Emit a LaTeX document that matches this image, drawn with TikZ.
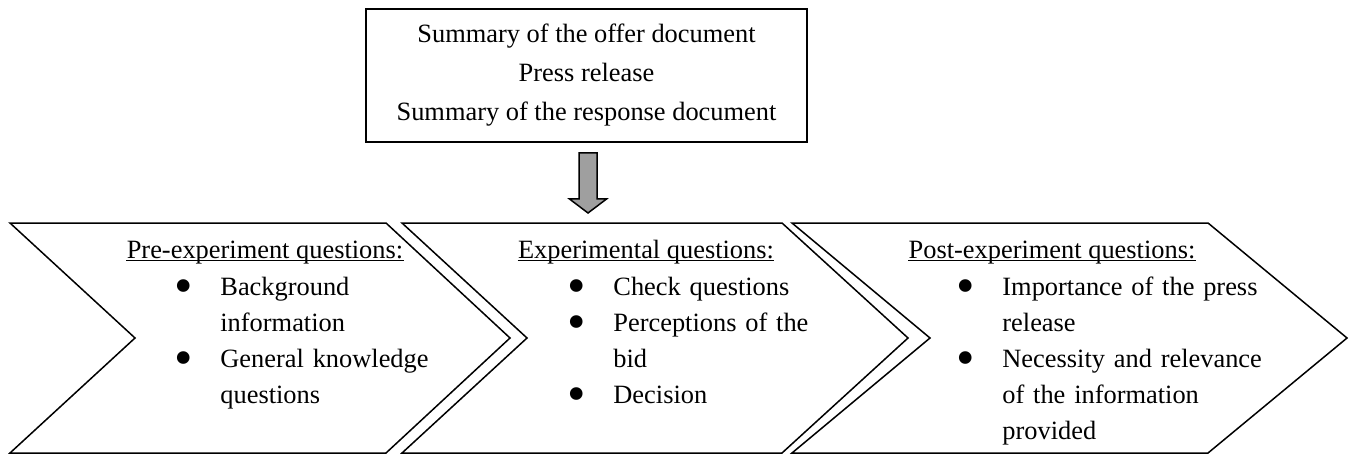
\documentclass[tikz,border=0pt]{standalone}
\usepackage{fontspec}
\setmainfont{Liberation Serif}
\usetikzlibrary{positioning}

\newcommand{\qbullet}{\smash{\raisebox{-3.8pt}{\scalebox{2}{\textbullet}}}}
\newcommand{\qitem}[1]{\noindent\raggedright\hangindent=23pt\hangafter=1%
  \makebox[23pt][l]{\qbullet}\strut#1\par}

\begin{document}
\begin{tikzpicture}[
  x=0.5pt, y=-0.5pt,
  every node/.style={font=\fontsize{13.2}{18}\selectfont},
  docbox/.style={draw, line width=1pt, minimum width=220.5pt,
                 minimum height=66.5pt, align=center,
                 font=\fontsize{13.2}{19.5}\selectfont},
  chev/.style={draw, line width=0.75pt, line join=miter},
  ttl/.style={anchor=base, inner sep=0pt},
  qlist/.style={anchor=north west, inner sep=0pt, text width=140pt},
  uline/.style={line width=0.6pt},
  blockarr/.style={draw, line width=0.75pt, fill=gray!75, line join=miter},
]
  \useasboundingbox (0,0) rectangle (1352,454);

  \node[docbox] (docs) at (586.5,75.5)
    {Summary of the offer document\\Press release\\Summary of the response document};

  % the three stages
  \draw[chev] (10,223) -- (386,223) -- (510,338) -- (386,453) -- (10,453) -- (135,338) -- cycle;
  \draw[chev] (402,223) -- (782,223) -- (908,338) -- (782,453) -- (402,453) -- (527,338) -- cycle;
  \draw[chev] (792,223) -- (1208,223) -- (1347,338) -- (1208,453) -- (792,453) -- (930,338) -- cycle;

  \node[ttl] (pretitle) at (265,258) {Pre-experiment questions:};
  \node[ttl] (exptitle) at (646,258) {Experimental questions:};
  \node[ttl] (posttitle) at (1052,258) {Post-experiment questions:};
  \foreach \t in {pretitle,exptitle,posttitle}
    \draw[uline] ([yshift=-1.2pt]\t.base west) -- ([yshift=-1.2pt]\t.base east);

  \node[qlist] (prelist) at (174,270)
    {\qitem{Background\newline information}\qitem{General knowledge\newline questions}};
  \node[qlist] (explist) at (567,270)
    {\qitem{Check questions}\qitem{Perceptions of the\newline bid}\qitem{Decision}};
  \node[qlist, text width=165pt] (postlist) at (956,270)
    {\qitem{Importance of the press\newline release}\qitem{Necessity and relevance\newline of the information\newline provided}};

  % block arrow from the documents to the experiment
  \coordinate (arrtop) at (588,153);
  \coordinate (arrtip) at (588,213);
  \draw[blockarr] (arrtop) ++(-9,0) -- ++(0,46) -- ++(-9.5,0) -- (arrtip)
    -- ++(18.5,-14) -- ++(-9.5,0) -- ++(0,-46) -- cycle;
\end{tikzpicture}
\end{document}
